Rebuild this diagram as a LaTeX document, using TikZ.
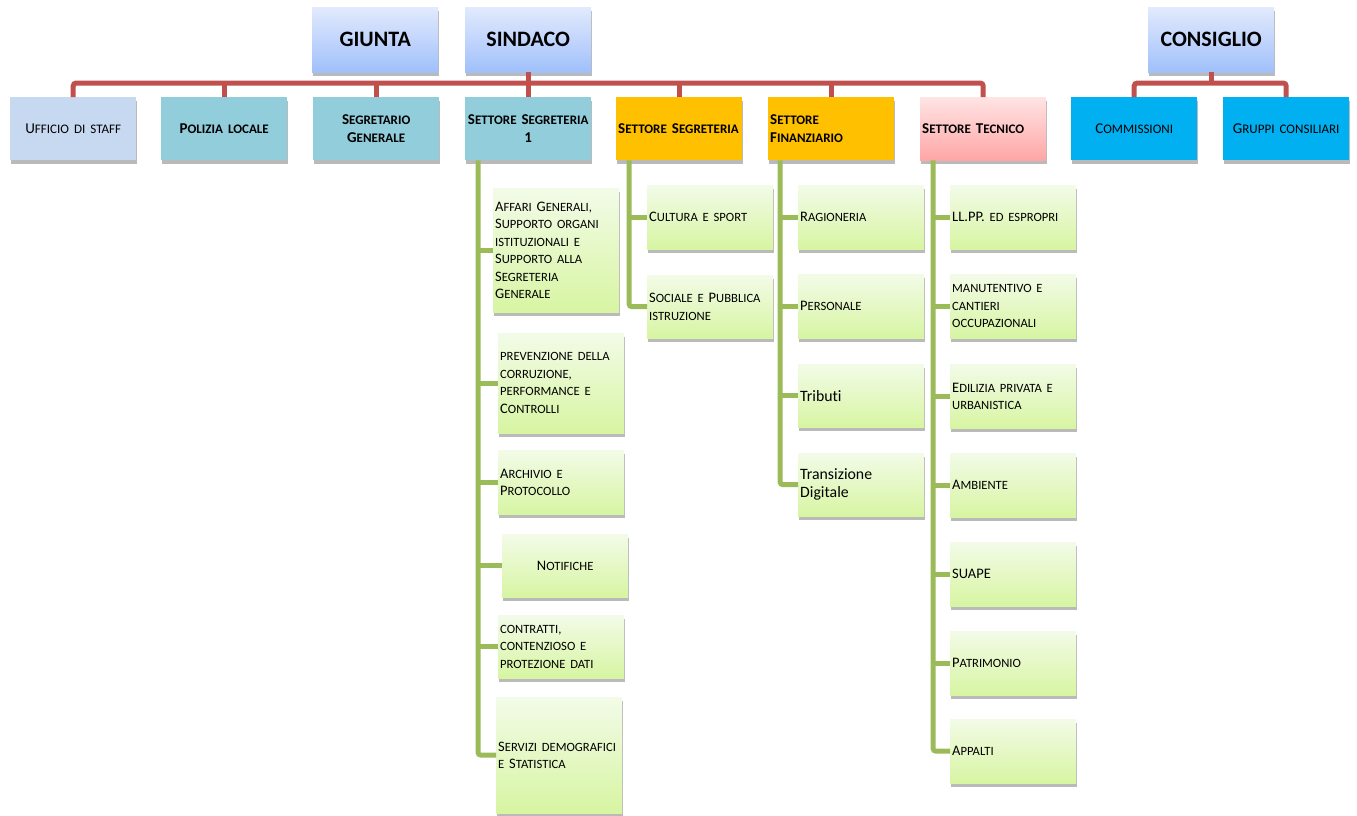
\documentclass[tikz,border=0pt]{standalone}
\usepackage{fontspec}
\setmainfont{Carlito}[Ligatures=NoCommon]
\usetikzlibrary{shadows}
\definecolor{topA}{HTML}{E2EAFD}
\definecolor{topB}{HTML}{A0C0FB}
\definecolor{uffc}{HTML}{C6D9F1}
\definecolor{teal}{HTML}{92CDDC}
\definecolor{orng}{HTML}{FFC000}
\definecolor{pnkA}{HTML}{FFE4E4}
\definecolor{pnkB}{HTML}{FFA6A6}
\definecolor{cyan}{HTML}{00B0F0}
\definecolor{lfA}{HTML}{F3FBE8}
\definecolor{lfB}{HTML}{D7F5A2}
\definecolor{redl}{HTML}{C0504D}
\definecolor{grnl}{HTML}{9BBB59}
% small caps made by hand
\makeatletter
\newcommand\smc[1]{{\fontsize{\strip@pt\dimexpr.87\dimexpr\f@size pt\relax\relax}{\f@baselineskip}\selectfont\MakeUppercase{#1}}}
\makeatother
\tikzstyle{bx}=[anchor=north west,inner xsep=2pt,inner ysep=0pt,minimum height=63pt,text width=122pt,align=left,font=\fontsize{14.5}{17.5}\selectfont,drop shadow={shadow xshift=1pt,shadow yshift=-4pt,opacity=.45,fill=black!60}]
\tikzstyle{topbx}=[bx,minimum height=65pt,align=center,top color=topA,bottom color=topB,font=\bfseries\fontsize{22}{26}\selectfont]
\tikzstyle{sec}=[bx,font=\bfseries\fontsize{15}{18}\selectfont]
\tikzstyle{grp}=[bx,align=center,font=\fontsize{15}{18}\selectfont]
\tikzstyle{lf}=[bx,top color=lfA,bottom color=lfB]
\tikzstyle{rd}=[line width=5pt,color=redl,rounded corners=3pt]
\tikzstyle{gr}=[line width=5pt,color=grnl,rounded corners=3pt]

\begin{document}
\begin{tikzpicture}[x=1pt,y=-1pt]
\useasboundingbox (0,0) rectangle (1357,816);
% vertici
\node[topbx] (giunta) at (312,7) {GIUNTA};
\node[topbx] (sind) at (465,7) {SINDACO};
\node[topbx] (cons) at (1148,7) {CONSIGLIO};
% settori
\node[grp,fill=uffc] (uff) at (10,97) {U\smc{fficio di staff}};
\node[sec,align=center,fill=teal] (pol) at (161,97) {P\smc{olizia locale}};
\node[sec,align=center,fill=teal] (sgen) at (313,97) {S\smc{egretario}\\ G\smc{enerale}};
\node[sec,align=center,fill=teal] (ss1) at (465,97) {S\smc{ettore} S\smc{egreteria}\\ 1};
\node[sec,fill=orng] (ssg) at (616,97) {S\smc{ettore} S\smc{egreteria}};
\node[sec,fill=orng] (fin) at (768,97) {S\smc{ettore}\\ F\smc{inanziario}};
\node[sec,top color=pnkA,bottom color=pnkB] (tec) at (920,97) {S\smc{ettore} T\smc{ecnico}};
\node[grp,fill=cyan] (com) at (1071,97) {C\smc{ommissioni}};
\node[grp,fill=cyan] (gru) at (1223,97) {G\smc{ruppi consiliari}};
% uffici settore segreteria 1
\node[lf,minimum height=124pt] (aff) at (493,188) {A\smc{ffari} G\smc{enerali,}\\ S\smc{upporto organi}\\ \smc{istituzionali e}\\ S\smc{upporto alla}\\ S\smc{egreteria}\\ G\smc{enerale}};
\node[lf,minimum height=100pt] (prev) at (498,333) {\smc{prevenzione della}\\ \smc{corruzione,}\\ \smc{performance e}\\ C\smc{ontrolli}};
\node[lf,minimum height=64pt] (arc) at (498,450) {A\smc{rchivio e}\\ P\smc{rotocollo}};
\node[lf,align=center] (notif) at (502,534) {N\smc{otifiche}};
\node[lf] (contr) at (498,615) {\smc{contratti,}\\ \smc{contenzioso e}\\ \smc{protezione dati}};
\node[lf,minimum height=116pt] (serv) at (496,697) {S\smc{ervizi demografici}\\ \smc{e} S\smc{tatistica}};
% uffici settore segreteria
\node[lf,minimum height=64pt] (cult) at (647,185) {C\smc{ultura e sport}};
\node[lf] (soc) at (647,275) {S\smc{ociale e} P\smc{ubblica}\\ \smc{istruzione}};
% uffici settore finanziario
\node[lf,minimum height=64pt] (rag) at (798,185) {R\smc{agioneria}};
\node[lf,minimum height=64pt] (pers) at (798,274) {P\smc{ersonale}};
\node[lf,font=\fontsize{15.8}{18}\selectfont] (trib) at (798,364) {Tributi};
\node[lf,font=\fontsize{15.8}{18}\selectfont] (trans) at (798,453) {Transizione\\ Digitale};
% uffici settore tecnico
\node[lf,minimum height=64pt] (llpp) at (950,185) {LL.PP. \smc{ed espropri}};
\node[lf,minimum height=64pt] (man) at (950,274) {\smc{manutentivo e}\\ \smc{cantieri}\\ \smc{occupazionali}};
\node[lf,minimum height=64pt] (edil) at (950,364) {E\smc{dilizia privata e}\\ \smc{urbanistica}};
\node[lf,minimum height=64pt] (amb) at (950,453) {A\smc{mbiente}};
\node[lf,minimum height=64pt] (suape) at (950,542) {SUAPE};
\node[lf,minimum height=64pt] (patr) at (950,631) {P\smc{atrimonio}};
\node[lf,minimum height=64pt] (appa) at (950,719) {A\smc{ppalti}};
% linee rosse
\coordinate (bus) at (0,83);
\draw[rd] (uff.north) -- (uff.north |- bus) -- (tec.north |- bus) -- (tec.north);
\draw[rd] (sind.south) -- (ss1.north);
\foreach \n in {pol,sgen,ssg,fin} \draw[rd] (\n.north |- bus) -- (\n.north);
\draw[rd] (com.north) -- (com.north |- bus) -- (gru.north |- bus) -- (gru.north);
\draw[rd] (cons.south) -- (cons.south |- bus);
% linee verdi
\coordinate (s1) at ([xshift=13pt]ss1.south west);
\coordinate (s2) at ([xshift=13pt]ssg.south west);
\coordinate (s3) at ([xshift=12pt]fin.south west);
\coordinate (s4) at ([xshift=13pt]tec.south west);
\draw[gr] (s1) |- (serv.west);
\foreach \n in {aff,prev,arc,notif,contr} \draw[gr] (s1 |- \n.west) -- (\n.west);
\draw[gr] (s2) |- (soc.west);
\draw[gr] (s2 |- cult.west) -- (cult.west);
\draw[gr] (s3) |- (trans.west);
\foreach \n in {rag,pers,trib} \draw[gr] (s3 |- \n.west) -- (\n.west);
\draw[gr] (s4) |- (appa.west);
\foreach \n in {llpp,man,edil,amb,suape,patr} \draw[gr] (s4 |- \n.west) -- (\n.west);
\end{tikzpicture}
\end{document}
